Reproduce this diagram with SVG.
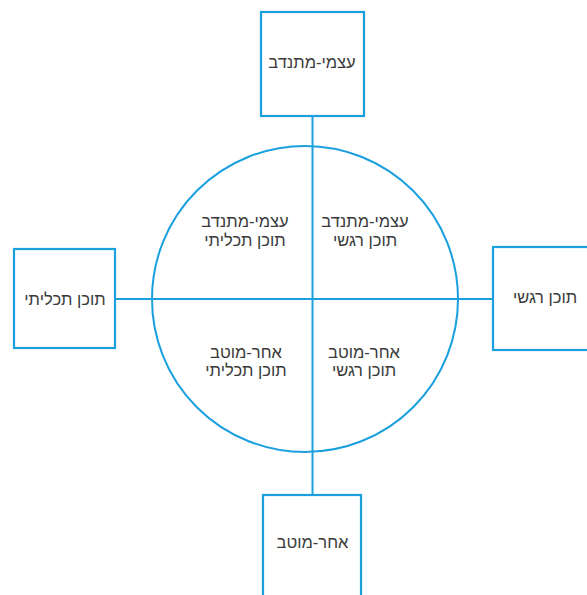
<svg xmlns="http://www.w3.org/2000/svg" width="587" height="595" viewBox="0 0 587 595">
<style>
.box{fill:#ffffff;stroke:#1a9fdf;stroke-width:2.2}
.ln{fill:none;stroke:#1a9fdf;stroke-width:2}
text{font-family:"Liberation Sans","DejaVu Sans",sans-serif;font-size:16.5px;fill:#3a3a3a;text-anchor:middle}
</style>
<rect width="587" height="595" fill="#ffffff"/>
<g id="connectors">
<circle class="ln" cx="305" cy="299" r="153"/>
<line class="ln" x1="312.5" y1="116" x2="312.5" y2="495"/>
<line class="ln" x1="115" y1="299" x2="493" y2="299"/>
</g>
<g id="node-top">
<rect class="box" x="261" y="12" width="103" height="104"/>
<text x="312" y="68" direction="rtl">עצמי-מתנדב</text>
</g>
<g id="node-left">
<rect class="box" x="14" y="249" width="101" height="99"/>
<text x="65" y="305" direction="rtl">תוכן תכליתי</text>
</g>
<g id="node-right">
<rect class="box" x="493" y="247" width="100" height="103"/>
<text x="545" y="303" direction="rtl">תוכן רגשי</text>
</g>
<g id="node-bottom">
<rect class="box" x="263" y="495" width="98" height="110"/>
<text x="312.5" y="548" direction="rtl">אחר-מוטב</text>
</g>
<g id="q-ul">
<text x="245" y="227" direction="rtl">עצמי-מתנדב</text>
<text x="245" y="246" direction="rtl">תוכן תכליתי</text>
</g>
<g id="q-ur">
<text x="365" y="227" direction="rtl">עצמי-מתנדב</text>
<text x="365" y="246" direction="rtl">תוכן רגשי</text>
</g>
<g id="q-ll">
<text x="246" y="358" direction="rtl">אחר-מוטב</text>
<text x="246" y="376" direction="rtl">תוכן תכליתי</text>
</g>
<g id="q-lr">
<text x="364" y="358" direction="rtl">אחר-מוטב</text>
<text x="364" y="376" direction="rtl">תוכן רגשי</text>
</g>
</svg>
